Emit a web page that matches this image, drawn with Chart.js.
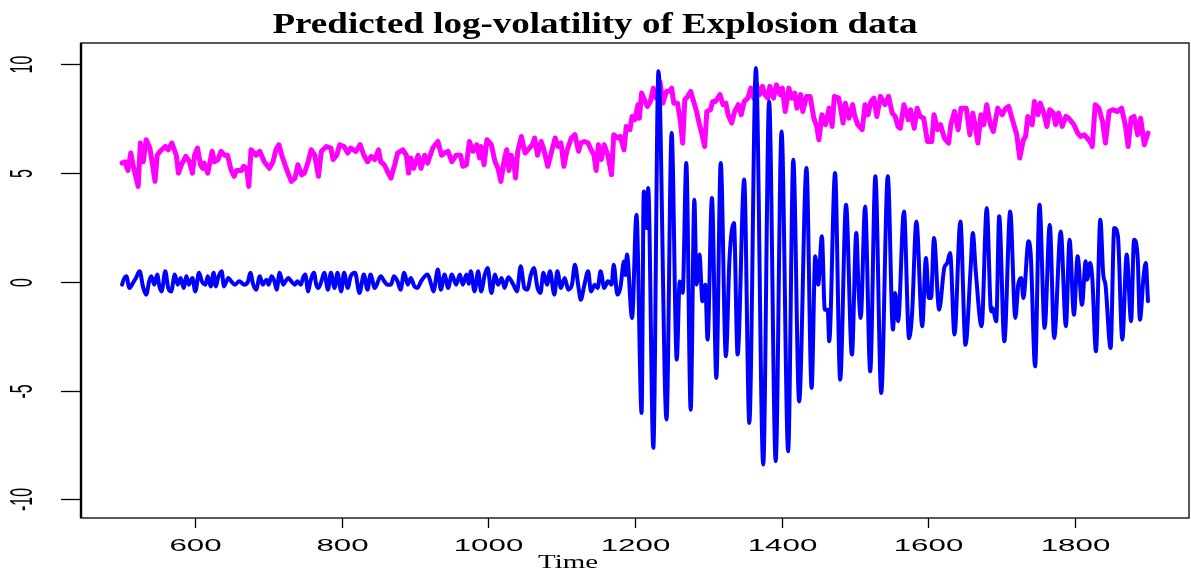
<!DOCTYPE html>
<html>
<head>
<meta charset="utf-8">
<script src="https://cdn.jsdelivr.net/npm/chart.js@4.4.1/dist/chart.umd.min.js"></script>
<style>
  html, body { margin: 0; padding: 0; background: #fff; }
  #wrap { width: 1191px; height: 569px; }
</style>
</head>
<body>
<div id="wrap"><canvas id="volChart" width="1191" height="569"></canvas></div>
<script>
// --- data ---
const blueTime = [500,503,506,510,515,519,524,529,533,537,540,544,548,551,554,559,563,567,572,576,580,584,588,591,596,600,605,609,614,617,621,625,628,631,636,639,645,649,654,660,667,672,675,679,683,688,692,697,700,704,708,711,715,720,723,727,731,736,739,744,747,750,754,757,762,765,768,772,776,781,785,790,794,799,803,808,812,818,824,830,835,839,845,853,858,862,867,871,876,880,885,890,894,899,903,908,913,917,922,925,931,935,940,945,950,956,961,965,970,973,976,981,986,990,995,999,1004,1009,1013,1018,1022,1027,1034,1039,1044,1049,1053,1058,1062,1067,1071,1075,1080,1084,1090,1094,1099,1104,1109,1114,1118,1123,1126,1131,1136,1140,1145,1149,1153,1158,1163,1168,1171,1176,1180,1185,1187,1189,1196,1202,1209,1212,1216,1218,1225,1232,1243,1250,1257,1261,1265,1270,1276,1281,1284,1288,1292,1296,1299,1305,1311,1317,1324,1329,1335,1340,1349,1356,1365,1375,1383,1392,1400,1409,1416,1424,1434,1441,1446,1450,1455,1459,1463,1465,1473,1480,1488,1496,1502,1505,1508,1514,1521,1528,1536,1545,1552,1555,1559,1567,1574,1578,1584,1592,1597,1601,1604,1608,1615,1622,1626,1630,1636,1644,1651,1658,1661,1665,1673,1680,1686,1688,1693,1697,1704,1712,1719,1723,1727,1730,1737,1740,1746,1752,1759,1766,1772,1781,1788,1793,1799,1804,1810,1815,1817,1821,1824,1829,1835,1839,1842,1849,1854,1859,1865,1871,1877,1881,1886,1889,1894,1897,1900];
const blueValue = [-0.14,0.15,0.24,-0.29,-0.06,0.17,0.47,-0.29,-0.6,0.01,0.24,-0.14,0.32,-0.22,-0.45,0.47,-0.29,-0.45,0.32,-0.14,0.17,-0.29,0.24,-0.14,0.17,-0.45,0.4,0.01,-0.14,0.24,-0.22,0.4,-0.22,0.17,0.47,-0.22,0.17,0.01,-0.14,0.01,-0.14,0.01,0.4,-0.14,-0.37,0.24,-0.14,0.09,-0.14,0.24,0.01,-0.37,0.4,-0.14,0.01,0.17,0.01,-0.14,0.01,-0.14,0.17,0.32,-0.45,0.01,0.4,-0.14,-0.29,0.01,0.4,-0.37,0.4,-0.29,0.4,-0.45,0.4,-0.29,0.24,0.4,-0.52,0.32,-0.37,0.32,-0.29,0.24,0.01,-0.14,-0.14,0.24,0.01,-0.37,0.4,-0.14,0.17,-0.22,-0.29,0.01,0.24,0.32,-0.14,-0.45,0.55,-0.37,0.32,-0.29,0.32,-0.14,0.32,-0.14,0.32,-0.1,0.47,-0.45,0.47,-0.45,0.32,0.62,-0.52,0.32,-0.14,0.17,-0.29,0.2,-0.14,-0.45,0.7,-0.29,-0.37,0.32,0.62,-0.29,-0.52,0.4,-0.14,0.47,-0.6,0.47,-0.29,0.17,-0.37,-0.14,0.77,-0.29,-0.83,-0.14,0.47,-0.45,-0.14,-0.29,0.47,-0.29,0.01,-0.14,0.77,-0.6,-0.29,0.93,0.3,1.24,-1.67,3.07,-6.03,4.14,2.46,4.29,-7.63,9.65,-6.33,6.82,-3.58,0.0,-0.52,5.44,-5.88,3.76,-0.14,1.24,-0.9,-0.14,-2.66,3.84,-4.42,5.44,-3.43,1.08,2.69,-3.35,4.68,-6.49,9.8,-8.4,8.27,-8.24,6.89,-7.79,5.59,-5.5,5.21,-4.88,1.16,-0.14,2.08,-1.29,-1.29,-2.74,4.98,-4.5,3.53,-3.35,2.23,-0.29,-1.67,3.45,-4.12,4.83,-5.11,4.83,-2.2,-0.52,-1.82,3.22,-2.6,-1.52,2.76,-2.05,1.08,-0.75,-0.75,2.0,-1.29,0.62,0.85,1.31,-2.43,2.76,-2.9,0.62,2.23,0.47,-2.05,3.38,-1.37,-1.22,-1.82,3.0,-2.74,3.22,-1.67,-0.14,0.17,-0.75,1.85,1.24,-3.89,3.53,-2.12,2.61,-2.59,2.3,-2.05,1.92,-1.52,1.16,-1.06,0.93,0.09,0.85,0.17,-3.2,2.84,0.32,-0.14,-3.05,2.46,2.08,-2.66,1.24,-1.82,1.92,1.08,-1.75,0.24,0.85,-0.9];

const magTime = [500,504,508,512,515,522,525,529,533,538,541,545,548,552,559,563,568,574,577,581,587,592,596,599,603,607,610,612,617,623,626,631,635,640,644,649,653,656,663,666,670,673,676,683,688,694,701,706,710,714,718,724,731,736,740,745,749,754,758,763,768,772,779,785,788,793,797,803,808,812,819,825,830,835,840,845,850,853,858,862,867,872,876,883,888,891,894,898,904,908,913,917,924,931,936,940,945,950,956,962,965,970,974,979,984,988,990,994,998,1004,1009,1013,1017,1022,1025,1028,1031,1035,1037,1040,1045,1050,1056,1060,1063,1067,1072,1075,1081,1085,1091,1095,1099,1103,1107,1113,1118,1123,1126,1131,1136,1139,1144,1147,1150,1154,1158,1163,1168,1171,1177,1180,1185,1188,1193,1196,1200,1204,1206,1209,1213,1217,1221,1225,1229,1234,1238,1243,1247,1250,1253,1258,1262,1265,1268,1272,1276,1280,1284,1288,1291,1295,1298,1303,1306,1310,1316,1320,1324,1327,1332,1336,1341,1345,1349,1354,1358,1362,1365,1370,1374,1377,1381,1384,1389,1393,1398,1401,1405,1410,1414,1418,1421,1426,1429,1434,1439,1444,1448,1451,1455,1460,1465,1469,1472,1478,1484,1487,1492,1497,1500,1504,1510,1514,1518,1522,1526,1530,1535,1541,1546,1551,1555,1559,1562,1567,1573,1576,1581,1585,1589,1594,1599,1605,1608,1613,1617,1622,1628,1631,1636,1641,1645,1652,1657,1661,1664,1668,1672,1676,1680,1685,1689,1695,1701,1706,1710,1715,1721,1725,1730,1733,1736,1742,1745,1750,1753,1758,1762,1766,1771,1774,1778,1783,1788,1792,1799,1804,1808,1813,1817,1822,1824,1828,1833,1838,1842,1847,1852,1858,1864,1869,1873,1877,1881,1886,1890,1895,1900];
const magValue = [5.44,5.5,5.1,5.9,5.36,4.37,6.36,5.5,6.51,6.13,5.5,4.6,5.8,5.98,6.2,6.05,6.36,5.8,4.98,5.36,5.75,5.5,4.98,5.8,6.13,5.36,5.2,5.44,4.98,5.98,5.5,5.6,5.98,5.8,5.8,5.1,4.83,5.1,5.1,5.29,5.2,4.37,6.05,5.8,5.98,5.5,5.2,5.5,6.05,6.28,5.8,5.2,4.6,4.75,5.36,4.9,4.98,5.5,6.05,5.8,4.83,5.98,6.2,6.13,5.6,5.8,6.28,6.2,5.9,6.13,5.98,6.28,5.8,5.5,5.75,5.6,6.05,5.5,5.36,5.06,4.75,5.36,5.9,6.05,5.8,4.98,5.67,5.2,5.8,5.2,5.8,5.44,6.13,6.43,5.8,5.9,5.98,5.5,5.8,5.8,5.29,5.36,6.43,5.98,6.28,5.67,6.2,5.36,6.51,6.28,5.5,5.2,4.6,5.67,6.05,5.1,5.8,5.36,4.75,5.98,6.66,5.9,6.13,6.28,6.59,5.8,6.43,6.13,5.29,5.8,6.59,6.2,6.36,5.29,5.98,6.59,6.74,5.98,6.36,6.43,6.36,6.13,5.8,5.1,6.28,5.6,6.28,5.8,4.9,6.74,6.59,6.66,6.05,7.12,6.97,7.58,7.43,8.12,7.5,8.65,8.35,8.04,8.27,8.88,8.42,9.19,8.19,8.73,8.73,8.88,8.19,8.19,7.35,6.36,8.35,8.5,8.73,8.27,7.81,7.2,6.82,6.2,7.81,7.89,8.27,8.27,8.58,8.12,8.19,7.66,7.28,7.81,8.12,7.66,8.27,8.42,8.88,8.42,9.11,8.58,8.96,8.6,8.42,8.96,8.42,9.03,8.58,8.88,7.81,8.88,8.42,8.65,7.96,8.58,7.81,8.5,8.5,7.5,7.12,6.51,7.66,7.2,7.96,7.12,8.5,8.42,7.28,8.19,7.5,8.12,7.58,7.2,6.97,8.12,7.66,8.27,8.42,7.58,8.5,8.12,8.5,7.73,7.58,7.12,7.04,8.12,7.43,7.89,7.04,7.96,7.58,7.5,6.43,6.43,7.66,6.97,7.2,6.59,6.36,7.2,7.81,6.97,7.96,7.96,6.74,7.73,7.2,6.36,7.66,7.2,8.12,7.2,6.89,7.96,7.66,7.96,8.04,7.43,6.74,5.67,6.51,6.66,7.58,7.2,8.27,7.66,8.19,7.73,7.12,7.89,7.73,7.2,7.73,7.12,7.58,7.5,7.2,6.82,6.66,6.74,6.59,6.36,6.2,8.12,7.96,7.35,6.36,7.81,7.89,7.81,7.96,7.2,6.2,7.5,7.58,6.74,7.5,6.28,6.82];

const xTicks = [600, 800, 1000, 1200, 1400, 1600, 1800];
const yTicks = [-10, -5, 0, 5, 10];
const titleText = 'Predicted log-volatility of Explosion data';
const xLabelText = 'Time';

const toPoints = (xs, ys) => xs.map((x, i) => ({ x: x, y: ys[i] }));

// text in the picture is wider than tall, so labels are stretched sideways
function stretchText(ctx, text, x, y, sx, rotate) {
    ctx.save();
    ctx.translate(x, y);
    ctx.scale(sx, 1);
    if (rotate) ctx.rotate(-Math.PI / 2);
    ctx.fillText(text, 0, 0);
    ctx.restore();
}

const rFrame = {
    id: 'rFrame',
    afterDraw(chart) {
        const ctx = chart.ctx;
        const a = chart.chartArea;
        const xs = chart.scales.x, ys = chart.scales.y;
        ctx.save();
        ctx.strokeStyle = '#000';
        ctx.fillStyle = '#000';

        // box
        ctx.lineWidth = 1.3;
        ctx.strokeRect(a.left, a.top, a.right - a.left, a.bottom - a.top);
        ctx.lineWidth = 2.4;
        ctx.beginPath();
        ctx.moveTo(a.left, a.top);
        ctx.lineTo(a.left, a.bottom);
        ctx.stroke();

        // x ticks
        ctx.lineWidth = 1.3;
        ctx.font = '17px "Liberation Sans", Arial, sans-serif';
        ctx.textAlign = 'center';
        ctx.textBaseline = 'middle';
        xTicks.forEach(t => {
            const px = Math.round(xs.getPixelForValue(t)) + 0.5;
            ctx.beginPath();
            ctx.moveTo(px, a.bottom);
            ctx.lineTo(px, a.bottom + 10);
            ctx.stroke();
            stretchText(ctx, String(t), px, 546, 1.84, false);
        });

        // y ticks, labels turned like R's las=0
        ctx.font = '16px "Liberation Sans", Arial, sans-serif';
        yTicks.forEach(t => {
            const py = Math.round(ys.getPixelForValue(t)) + 0.5;
            ctx.beginPath();
            ctx.moveTo(a.left - 20, py);
            ctx.lineTo(a.left, py);
            ctx.stroke();
            stretchText(ctx, String(t), 23, py, 1.95, true);
        });

        // title
        ctx.font = 'bold 29px "Liberation Serif", serif';
        ctx.textBaseline = 'alphabetic';
        const tw = ctx.measureText(titleText).width;
        stretchText(ctx, titleText, 595, 33, 645 / tw, false);

        // axis title
        ctx.font = '18px "Liberation Serif", serif';
        const lw = ctx.measureText(xLabelText).width;
        stretchText(ctx, xLabelText, 568, 568, 60 / lw, false);
        ctx.restore();
    }
};

const ctx = document.getElementById('volChart').getContext('2d');
const volChart = new Chart(ctx, {
    type: 'line',
    data: {
        datasets: [
            {
                label: 'returns',
                data: toPoints(blueTime, blueValue),
                borderColor: '#0000FF',
                borderWidth: 4,
                cubicInterpolationMode: 'monotone',
                pointRadius: 0,
                borderJoinStyle: 'round',
                borderCapStyle: 'round',
                order: 0
            },
            {
                label: 'log-volatility',
                data: toPoints(magTime, magValue),
                borderColor: '#FF00FF',
                borderWidth: 5,
                tension: 0,
                pointRadius: 0,
                borderJoinStyle: 'round',
                borderCapStyle: 'round',
                order: 1
            }
        ]
    },
    options: {
        responsive: false,
        devicePixelRatio: 1,
        animation: false,
        layout: { padding: { left: 81, top: 43, right: 2, bottom: 51 } },
        plugins: {
            legend: { display: false },
            tooltip: { enabled: false },
            title: { display: false }
        },
        scales: {
            x: { type: 'linear', min: 444, max: 1956, display: false },
            y: { type: 'linear', min: -10.85, max: 10.95, display: false }
        }
    },
    plugins: [rFrame]
});
</script>
</body>
</html>
